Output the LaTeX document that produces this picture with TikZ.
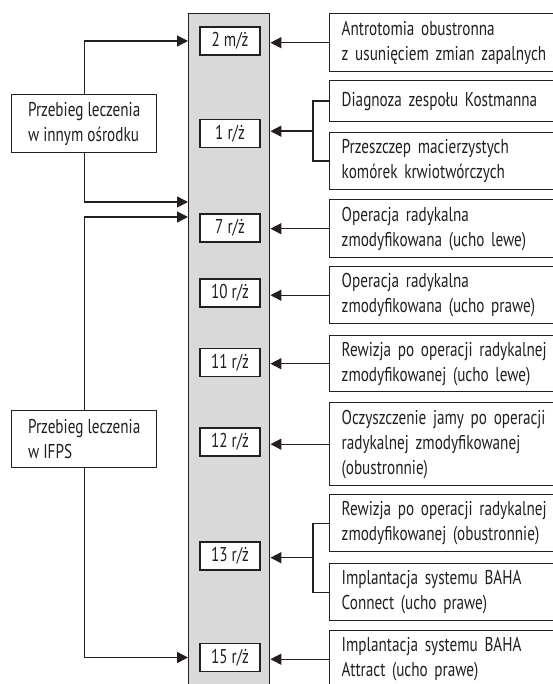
\documentclass[tikz,border=0pt]{standalone}
\usepackage{fontspec}
\setmainfont[FakeStretch=0.76]{PT Sans}
\usetikzlibrary{arrows.meta,calc}
\definecolor{colfill}{HTML}{D9D9D9}
\definecolor{ink}{HTML}{231F20}
\begin{document}
\begin{tikzpicture}[x=1pt,y=-1pt,
  every node/.style={font=\fontsize{20}{25}\selectfont, text=ink},
  column/.style={draw=ink, fill=colfill, line width=1.4pt, minimum width=81pt, minimum height=700pt, anchor=north west, inner sep=0pt},
  timebox/.style={draw=ink, fill=white, line width=1.4pt, minimum width=60pt, minimum height=28pt, inner sep=0pt},
  leftbox/.style={draw=ink, fill=white, line width=1.4pt, minimum width=145pt, inner xsep=12pt, align=left, anchor=north west},
  rightbox/.style={draw=ink, fill=white, line width=1.4pt, text width=230pt, inner xsep=12pt, inner ysep=0pt, align=left, anchor=north west},
  link/.style={line width=1.4pt, draw=ink},
  arr/.style={link, -{Triangle[length=11pt,width=11pt]}}
]
\useasboundingbox (0,0) rectangle (552,684);
\fill[white] (0,0) rectangle (552,684);

\node[column] (col) at (188,13) {};

\node[timebox] (t2m) at (230,41) {2 m/ż};
\node[timebox] (t1)  at (230,133.5) {1 r/ż};
\node[timebox] (t7)  at (230,228) {7 r/ż};
\node[timebox] (t10) at (230,293) {10 r/ż};
\node[timebox] (t11) at (230,362.5) {11 r/ż};
\node[timebox] (t12) at (230,442) {12 r/ż};
\node[timebox] (t13) at (230,556) {13 r/ż};
\node[timebox] (t15) at (230,657.5) {15 r/ż};

\node[leftbox, minimum height=58pt] (L1) at (11,94) {Przebieg leczenia\\w innym ośrodku};
\node[leftbox, minimum height=57pt] (L2) at (11,410) {Przebieg leczenia\\w IFPS};

\node[rightbox, minimum height=58pt] (R1) at (329,13) {Antrotomia obustronna\\z usunięciem zmian zapalnych};
\node[rightbox, minimum height=41pt] (R2) at (329,80) {Diagnoza zespołu Kostmanna};
\node[rightbox, minimum height=57pt] (R3) at (329,132) {Przeszczep macierzystych\\komórek krwiotwórczych};
\node[rightbox, minimum height=58pt] (R4) at (329,199) {Operacja radykalna\\zmodyfikowana (ucho lewe)};
\node[rightbox, minimum height=57pt] (R5) at (329,266) {Operacja radykalna\\zmodyfikowana (ucho prawe)};
\node[rightbox, minimum height=56pt] (R6) at (329,335) {Rewizja po operacji radykalnej\\zmodyfikowanej (ucho lewe)};
\node[rightbox, minimum height=83pt] (R7) at (329,402) {Oczyszczenie jamy po operacji\\radykalnej zmodyfikowanej\\(obustronnie)};
\node[rightbox, minimum height=57pt] (R8) at (329,494) {Rewizja po operacji radykalnej\\zmodyfikowanej (obustronnie)};
\node[rightbox, minimum height=57pt] (R9) at (329,563) {Implantacja systemu BAHA\\Connect (ucho prawe)};
\node[rightbox, minimum height=57pt] (R10) at (329,630) {Implantacja systemu BAHA\\Attract (ucho prawe)};

% right arrows
\draw[arr] (R1.west) -- (R1.west -| col.east);
\draw[arr] (R4.west) -- (R4.west -| col.east);
\draw[arr] (R5.west) -- (R5.west -| col.east);
\draw[arr] (R6.west) -- (R6.west -| col.east);
\draw[arr] (R7.west) -- (R7.west -| col.east);
\draw[arr] (R10.west) -- (R10.west -| col.east);

\draw[link] (R2.west) -- ++(-16,0) |- (R3.west);
\coordinate (b1) at ($(R2.west)!0.5!(R3.west)+(-16,0)$);
\draw[arr] (b1) -- (b1 -| col.east);

\draw[link] (R8.west) -- ++(-16,0) |- (R9.west);
\coordinate (b2) at ($(R8.west)!0.5!(R9.west)+(-16,0)$);
\draw[arr] (b2) -- (b2 -| col.east);

% left arrows
\coordinate (in1) at (188,202);
\coordinate (in2) at (188,217);
\draw[arr] (L1.north) |- (t2m -| col.west);
\draw[arr] (L1.south) |- (in1);
\draw[arr] (L2.north) |- (in2);
\draw[arr] (L2.south) |- (t15 -| col.west);
\end{tikzpicture}
\end{document}
